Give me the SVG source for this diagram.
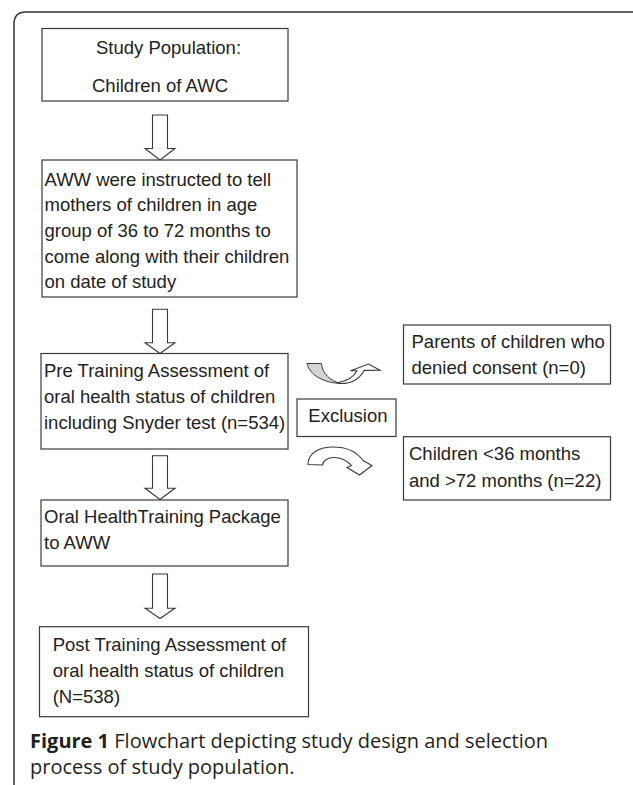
<svg xmlns="http://www.w3.org/2000/svg" width="633" height="785" viewBox="0 0 633 785">
<style>
.box{fill:#fff;stroke:#3a3a3a;stroke-width:1.2}
.t{font-family:"Liberation Sans",Arial,sans-serif;font-size:18.5px;fill:#222}
.arr{fill:#fff;stroke:#3a3a3a;stroke-width:1.1;stroke-linejoin:miter}
.cap{font-family:"Open Sans","Noto Sans",sans-serif;font-size:20px;fill:#231f20}
</style>
<rect width="633" height="785" fill="#fff"/>
<path d="M14,785 L14,24 Q14,12 26,12 L633,12" fill="none" stroke="#333" stroke-width="1.5"/>

<g id="n1">
<rect class="box" x="42" y="28.5" width="246" height="72.5"/>
<text class="t" x="96" y="53.5">Study Population:</text>
<text class="t" x="92" y="91.5">Children of AWC</text>
</g>
<g id="n2">
<rect class="box" x="42" y="160" width="255" height="137"/>
<text class="t" x="44.5" y="185.5">AWW were instructed to tell</text>
<text class="t" x="44.5" y="211">mothers of children in age</text>
<text class="t" x="44.5" y="236.7">group of 36 to 72 months to</text>
<text class="t" x="44.5" y="262.5">come along with their children</text>
<text class="t" x="44.5" y="288">on date of study</text>
</g>
<g id="n3">
<rect class="box" x="41" y="353.5" width="247" height="95.5"/>
<text class="t" x="44" y="377.3">Pre Training Assessment of</text>
<text class="t" x="44" y="403.3">oral health status of children</text>
<text class="t" x="44" y="429.3">including Snyder test (n=534)</text>
</g>
<g id="n4">
<rect class="box" x="41" y="500" width="247" height="66"/>
<text class="t" x="44" y="523.3">Oral HealthTraining Package</text>
<text class="t" x="44" y="549.3">to AWW</text>
</g>
<g id="n5">
<rect class="box" x="39.5" y="626.7" width="269" height="90"/>
<text class="t" x="52.7" y="650.7">Post Training Assessment of</text>
<text class="t" x="52.7" y="676.7">oral health status of children</text>
<text class="t" x="52.7" y="702.7">(N=538)</text>
</g>
<g id="n6">
<rect class="box" x="403.5" y="325" width="207" height="59"/>
<text class="t" x="411.5" y="348.3">Parents of children who</text>
<text class="t" x="411.5" y="374">denied consent (n=0)</text>
</g>
<g id="n7">
<rect class="box" x="297" y="399" width="99" height="37.5"/>
<text class="t" x="308.3" y="421.7">Exclusion</text>
</g>
<g id="n8">
<rect class="box" x="403.5" y="436.7" width="207" height="63.3"/>
<text class="t" x="409" y="460">Children &lt;36 months</text>
<text class="t" x="409" y="486.7">and &gt;72 months (n=22)</text>
</g>

<g id="connectors">
<path class="arr" d="M152.5,115 H167.5 V148.5 H175 L160,160 L145,148.5 H152.5 Z"/>
<path class="arr" d="M152.5,309.3 H167.5 V342.7 H175 L160,353.5 L145,342.7 H152.5 Z"/>
<path class="arr" d="M152.5,455.7 H167.5 V488.3 H175 L160,499.5 L145,488.3 H152.5 Z"/>
<path class="arr" d="M152.5,574 H167.5 V608.3 H175 L160,618.5 L145,608.3 H152.5 Z"/>
<path d="M307,363.5 L321.5,363.5 C322,373 330,381 341,383.5 C325,383 310,376 307,363.5 Z" fill="#d4d4d4" stroke="#3a3a3a" stroke-width="1"/>
<path class="arr" d="M338,382.8 C347,381 354,376.5 357,370.8 L350.5,370.8 L368.5,364 L380,370.2 L364,370.4 C360,378 352,383.5 341,383.5 Z" stroke-width="1"/>
<path class="arr" d="M308,464.5 C308,452 321,447 333,447 C346,447 357,452 363,460.5 L372,465.5 L359.5,475 L347,467.5 L351.5,465.5 C347,460.5 341,457.5 334,457.5 C327,457.5 323,461 322.5,465 Z" stroke-width="1"/>
</g>

<text class="cap" x="30" y="747.7"><tspan font-weight="bold">Figure 1</tspan> Flowchart depicting study design and selection</text>
<text class="cap" x="30" y="773.5">process of study population.</text>
</svg>
